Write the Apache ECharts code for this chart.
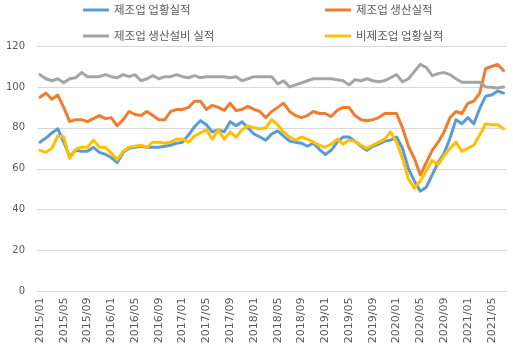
<!DOCTYPE html>
<html>
<head>
<meta charset="utf-8">
<script src="https://cdn.jsdelivr.net/npm/echarts@6/dist/echarts.min.js"></script>
<style>
  html, body { margin: 0; padding: 0; background: #fff; }
  #chart { width: 513px; height: 352px; }
</style>
</head>
<body>
<div id="chart"></div>
<script>
// monthly, 2015/01 .. 2021/07
const startYear = 2015
const monthCount = 79
const months = []
for (let i = 0; i < monthCount; i++) {
  const y = startYear + Math.floor(i / 12)
  const m = (i % 12) + 1
  months.push(y + '/' + (m < 10 ? '0' + m : m))
}

const seriesNames = ['제조업 업황실적', '제조업 생산실적', '제조업 생산설비 실적', '비제조업 업황실적']
const seriesColors = ['#5B9BD5', '#ED7D31', '#A5A5A5', '#FFC000']

const mfgBusiness = [
  73, 75, 77.5, 79.5, 73, 66, 69, 68.5, 68.5, 70.5,
  68, 67, 65.5, 63, 68, 70, 70.5, 71, 70.5, 70.5,
  70.5, 71, 71.5, 72.5, 73, 76.5, 80.5, 83.5, 81.5, 78,
  79, 78, 83, 81, 83, 80, 77, 75.5, 74, 77,
  78.5, 76, 73.5, 73, 72.5, 71, 72.5, 69.5, 67, 69,
  73, 75.5, 75.5, 73.5, 71, 69, 71, 72, 73.5, 74,
  75.5, 70, 60, 54, 49, 51, 57, 63, 67.5, 75,
  84, 82, 85, 82, 89.5, 95.5, 96, 98, 97
]
const mfgProduction = [
  95, 97, 94, 96, 90, 83, 84, 84, 83, 84.5,
  86, 84.5, 85, 81, 84, 88, 86.5, 86, 88, 86,
  84, 84, 88, 89, 89, 90, 93, 93, 89, 91,
  90, 88.5, 92, 88.5, 89, 90.5, 89, 88, 85, 88,
  90, 92, 88, 86, 85, 86, 88, 87, 87, 85.5,
  88.5, 90, 90, 86, 84, 83.5, 84, 85, 87, 87,
  87, 80, 71, 65, 57, 63, 69, 73, 78, 85,
  88, 87, 92, 93, 97, 109, 110, 111, 108
]
const mfgFacility = [
  106, 104, 103, 104, 102, 104, 104.5, 107, 105, 105,
  105, 106, 105, 104.5, 106, 105, 106, 103, 104, 105.5,
  104, 105, 105, 106, 105, 104.5, 105.5, 104.5, 105, 105,
  105, 105, 104.5, 105, 103, 104, 105, 105, 105, 105,
  101.5, 103, 100, 101, 102, 103, 104, 104, 104, 104,
  103.5, 103, 101, 103.5, 103, 104, 103, 102.5, 103, 104.5,
  106, 102.5, 104, 107.5, 111, 109.5, 105.5, 106.5, 107, 106,
  104, 102.3, 102.3, 102.3, 102.3, 100, 99.8, 99.5, 100
]
const nonMfgBusiness = [
  69, 68, 70, 76, 75.5, 65, 69.5, 70.5, 70.5, 74,
  70.5, 70.5, 67.5, 64.5, 68.5, 70.5, 71, 71.5, 70.5, 73,
  73, 72.5, 73, 74.5, 74.5, 73, 76, 77.5, 79, 74.5,
  79, 74.5, 78, 75.5, 79, 81, 80, 79.5, 80, 84,
  81.5, 78, 75.5, 74, 75.5, 74.5, 73, 71.5, 70.5, 72,
  74.5, 72, 74, 73.5, 71.5, 70, 71.5, 73, 74.5, 78,
  73, 65, 55, 50.5, 54, 59, 64, 62, 66.5, 70,
  73, 68.5, 70, 71.5, 76.5, 82, 81.5, 81.5, 79.5
]
const seriesValues = [mfgBusiness, mfgProduction, mfgFacility, nonMfgBusiness]

const yMin = 0
const yMax = 120
const yStep = 20

const chart = echarts.init(document.getElementById('chart'), null, { renderer: 'canvas' })

const legendPos = [
  { left: 83, top: 3 },
  { left: 325, top: 3 },
  { left: 83, top: 29 },
  { left: 325, top: 29 }
]

chart.setOption({
  animation: false,
  backgroundColor: '#fff',
  color: seriesColors,
  grid: { left: 37, right: 6.5, top: 46, bottom: 60.5 },
  legend: seriesNames.map((name, i) => ({
    data: [name],
    left: legendPos[i].left,
    top: legendPos[i].top,
    padding: 0,
    icon: 'rect',
    itemWidth: 26,
    itemHeight: 3,
    selectedMode: false,
    textStyle: {
      fontFamily: 'Noto Sans CJK KR',
      fontSize: 11.5,
      color: '#595959',
      lineHeight: 14
    }
  })),
  xAxis: {
    type: 'category',
    data: months,
    boundaryGap: true,
    axisLine: { lineStyle: { color: '#D9D9D9', width: 1 } },
    axisTick: { interval: 3, length: 4, lineStyle: { color: '#D9D9D9' } },
    axisLabel: {
      interval: 3,
      rotate: 90,
      margin: 6,
      color: '#595959',
      fontFamily: 'DejaVu Sans',
      fontSize: 11
    },
    splitLine: { show: false }
  },
  yAxis: {
    type: 'value',
    min: yMin,
    max: yMax,
    interval: yStep,
    axisLine: { show: false },
    axisTick: { show: false },
    axisLabel: {
      margin: 12,
      color: '#595959',
      fontFamily: 'DejaVu Sans',
      fontSize: 10
    },
    splitLine: { lineStyle: { color: '#D9D9D9', width: 1 } }
  },
  series: seriesNames.map((name, i) => ({
    name: name,
    type: 'line',
    data: seriesValues[i],
    symbol: 'none',
    lineStyle: { width: 3, cap: 'round', join: 'round' },
    emphasis: { disabled: true }
  }))
})
</script>
</body>
</html>
